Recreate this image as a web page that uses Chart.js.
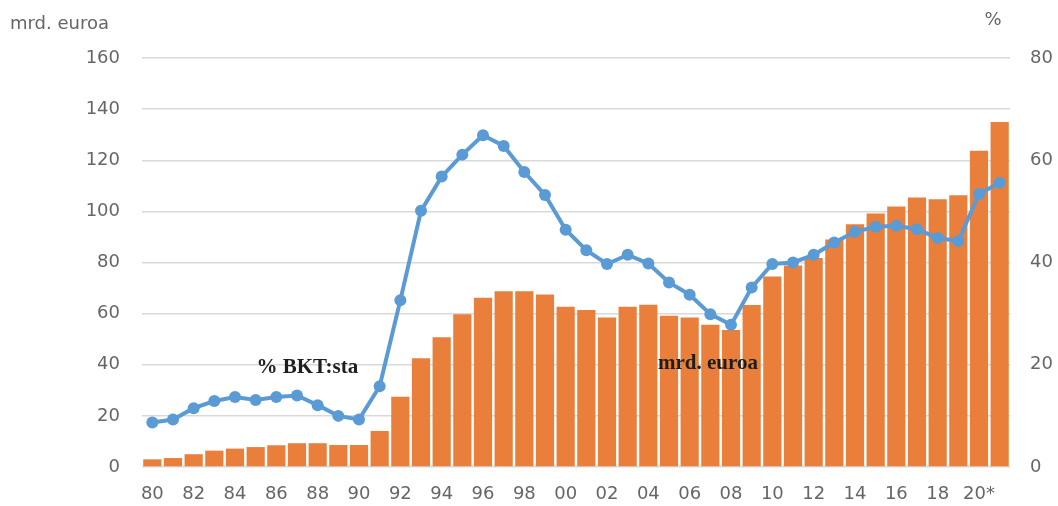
<!DOCTYPE html>
<html>
<head>
<meta charset="utf-8">
<script src="https://cdn.jsdelivr.net/npm/chart.js@4/dist/chart.umd.min.js"></script>
<style>
  html, body { margin: 0; padding: 0; background: #fff; }
  #wrap { width: 1058px; height: 506px; }
</style>
</head>
<body>
<div id="wrap"><canvas id="kaavio"></canvas></div>
<script>
// vuodet 1980-2021, joka toinen näytetään
const vuodet = ['80','81','82','83','84','85','86','87','88','89',
                '90','91','92','93','94','95','96','97','98','99',
                '00','01','02','03','04','05','06','07','08','09',
                '10','11','12','13','14','15','16','17','18','19',
                '20*','21*'];

// mrd. euroa (pylväät, vasen akseli)
const mrdEuroa = [3, 3.5, 5, 6.4, 7.2, 7.8, 8.5, 9.3, 9.3, 8.6,
                  8.6, 14.1, 27.5, 42.5, 50.8, 59.8, 66.2, 68.8, 68.8, 67.5,
                  62.7, 61.4, 58.5, 62.7, 63.5, 59.2, 58.5, 55.6, 53.6, 63.4,
                  74.5, 78.8, 81.8, 89, 95, 99.2, 101.9, 105.4, 104.7, 106.3,
                  123.7, 135];

// % BKT:sta (viiva, oikea akseli)
const bktProsentti = [8.7, 9.3, 11.5, 12.9, 13.7, 13.1, 13.7, 14.0, 12.1, 10.0,
                      9.3, 15.8, 32.6, 50.1, 56.8, 61.1, 64.9, 62.8, 57.7, 53.2,
                      46.4, 42.4, 39.7, 41.5, 39.8, 36.1, 33.7, 29.9, 27.8, 35.1,
                      39.7, 40.0, 41.5, 43.9, 46.0, 47.0, 47.2, 46.5, 44.8, 44.2,
                      53.4, 55.6];

const vasenTicks = [0, 20, 40, 60, 80, 100, 120, 140, 160];
const oikeaTicks = [0, 20, 40, 60, 80];

const harmaa = '#666666';
const fontti = 'DejaVu Sans';

// tekstit: akselien otsikot ja sarjojen nimet kuvan sisällä
const tekstit = {
    id: 'tekstit',
    afterDraw(chart) {
        const ctx = chart.ctx;
        const x = chart.scales.x;
        const y = chart.scales.y;
        ctx.save();
        ctx.fillStyle = harmaa;
        ctx.font = '18px "' + fontti + '"';
        ctx.textBaseline = 'middle';
        ctx.textAlign = 'left';
        ctx.fillText('mrd. euroa', 10, 24);
        ctx.textAlign = 'center';
        ctx.fillText('%', 993, 20);

        ctx.fillStyle = '#1e1e1e';
        ctx.font = 'bold 21px "Liberation Serif"';
        ctx.fillText('% BKT:sta', (x.getPixelForValue(7) + x.getPixelForValue(8)) / 2, y.getPixelForValue(38.7));
        ctx.fillText('mrd. euroa', (x.getPixelForValue(26) + x.getPixelForValue(27)) / 2 + 8, y.getPixelForValue(40.5));
        ctx.restore();
    }
};

new Chart(document.getElementById('kaavio'), {
    data: {
        labels: vuodet,
        datasets: [{
            type: 'line',
            label: '% BKT:sta',
            data: bktProsentti,
            yAxisID: 'y1',
            borderColor: '#5b9bd5',
            backgroundColor: '#5b9bd5',
            borderWidth: 4,
            pointRadius: 6,
            pointBorderWidth: 0,
            tension: 0,
            order: 0
        }, {
            type: 'bar',
            label: 'mrd. euroa',
            data: mrdEuroa,
            yAxisID: 'y',
            backgroundColor: '#e97f3a',
            barPercentage: 0.88,
            categoryPercentage: 1.0,
            order: 1
        }]
    },
    options: {
        responsive: true,
        maintainAspectRatio: false,
        animation: false,
        layout: { padding: { top: 58, right: 0, left: 0, bottom: 0 } },
        plugins: {
            legend: { display: false },
            tooltip: { enabled: false }
        },
        scales: {
            x: {
                grid: { display: false, drawTicks: false },
                border: { display: false },
                ticks: {
                    autoSkip: false,
                    maxRotation: 0,
                    padding: 17,
                    color: harmaa,
                    font: { family: fontti, size: 18 },
                    callback: (v, i) => i % 2 === 0 ? vuodet[i] : ''
                },
                afterFit: s => { s.height = 39; }
            },
            y: {
                position: 'left',
                min: 0,
                max: 160,
                afterBuildTicks: s => { s.ticks = vasenTicks.map(v => ({ value: v })); },
                grid: { color: '#d9d9d9', lineWidth: 1.5, drawTicks: false },
                border: { display: false },
                ticks: {
                    padding: 22,
                    color: harmaa,
                    font: { family: fontti, size: 18 }
                },
                afterFit: s => { s.width = 142; }
            },
            y1: {
                position: 'right',
                min: 0,
                max: 80,
                afterBuildTicks: s => { s.ticks = oikeaTicks.map(v => ({ value: v })); },
                grid: { display: false, drawTicks: false },
                border: { display: false },
                ticks: {
                    padding: 20,
                    color: harmaa,
                    font: { family: fontti, size: 18 }
                },
                afterFit: s => { s.width = 48; }
            }
        }
    },
    plugins: [tekstit]
});
</script>
</body>
</html>
